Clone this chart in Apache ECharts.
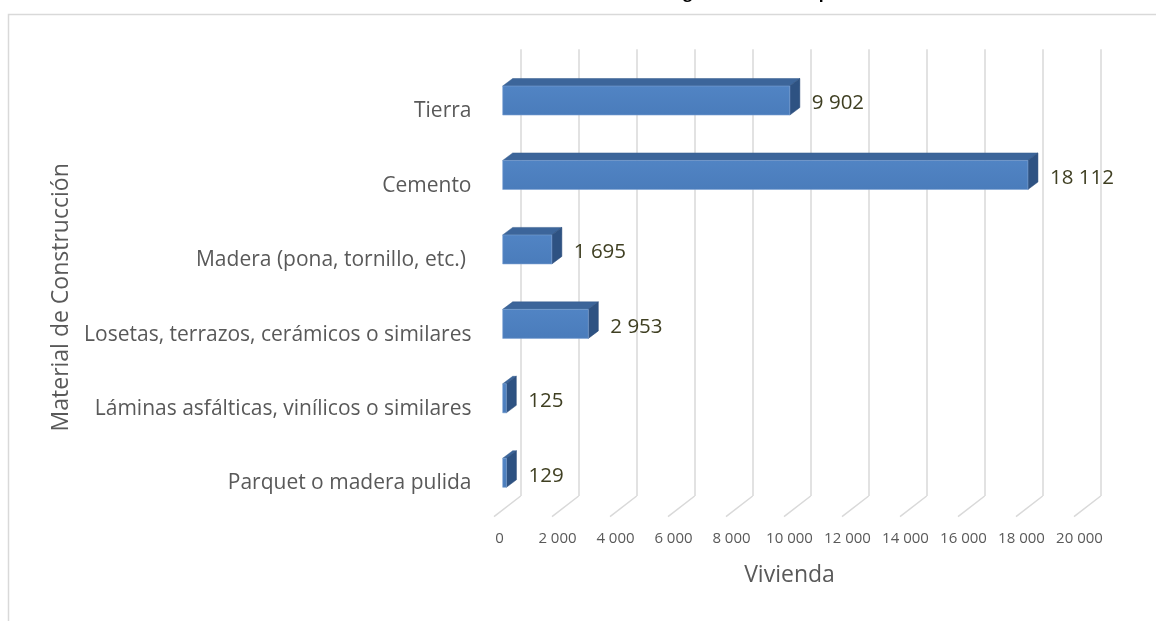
<!DOCTYPE html>
<html>
<head>
<meta charset="utf-8">
<script src="https://cdn.jsdelivr.net/npm/echarts@6/dist/echarts.min.js"></script>
<style>
  html, body { margin: 0; padding: 0; background: #fff; }
  #chart { width: 1156px; height: 621px; }
</style>
</head>
<body>
<div id="chart"></div>
<script>
// datos de la ilustración
const categories = [
    'Tierra',
    'Cemento',
    'Madera (pona, tornillo, etc.) ',
    'Losetas, terrazos, cerámicos o similares',
    'Láminas asfálticas, vinílicos o similares',
    'Parquet o madera pulida'
];
const viviendas = [9902, 18112, 1695, 2953, 125, 129];
const xTicks = [0, 2000, 4000, 6000, 8000, 10000, 12000, 14000, 16000, 18000, 20000];

// el título está cortado en el original (solo se ven los trazos inferiores)
const titleText = 'Ilustración N° 11: Distribución de las viviendas según material del piso';

// perspectiva 3D
const FRONT_DX = -18, FRONT_DY = 14;     // pared del fondo -> frente de la barra
const DEPTH_DX = 10, DEPTH_DY = -7.5;    // profundidad de la barra
const FLOOR_DX = -26.7, FLOOR_DY = 20.7; // profundidad del piso

function fmt(v) {
    return String(v).replace(/\B(?=(\d{3})+(?!\d))/g, ' ');
}

let myChart = echarts.init(document.getElementById('chart'), null, { renderer: 'canvas' });

const option = {
    animation: false,
    backgroundColor: '#fff',
    textStyle: { fontFamily: 'Open Sans' },
    graphic: [
        {
            type: 'rect',
            shape: { x: 8.5, y: 14.5, width: 1200, height: 700 },
            style: { fill: 'none', stroke: '#d9d9d9', lineWidth: 1.5 },
            silent: true
        },
        {
            type: 'text',
            x: 572, y: -6.5,
            style: {
                text: titleText,
                fontFamily: 'Open Sans',
                fontWeight: 'bold',
                fontSize: 16,
                fill: '#000',
                align: 'center',
                verticalAlign: 'middle'
            }
        }
    ],
    grid: [
        // pared del fondo
        { left: 520.7, top: 49.3, width: 580, height: 446.7, containLabel: false },
        // plano frontal (etiquetas)
        { left: 499.5, top: 74, width: 580, height: 446.7, containLabel: false }
    ],
    xAxis: [
        {
            gridIndex: 0, type: 'value', min: 0, max: 20000, interval: 2000,
            axisLine: { show: false }, axisTick: { show: false }, axisLabel: { show: false },
            splitLine: { show: true, lineStyle: { color: '#d9d9d9', width: 1.5 } }
        },
        {
            gridIndex: 1, type: 'value', min: 0, max: 20000, interval: 2000,
            axisLine: { show: false }, axisTick: { show: false }, splitLine: { show: false },
            axisLabel: { color: '#595959', fontSize: 15, margin: 11, formatter: fmt },
            name: 'Vivienda', nameLocation: 'middle', nameGap: 43,
            nameTextStyle: { color: '#595959', fontSize: 23 }
        }
    ],
    yAxis: [
        {
            gridIndex: 0, type: 'category', data: categories, inverse: true,
            axisLine: { show: false }, axisTick: { show: false }, axisLabel: { show: false },
            splitLine: { show: false }
        },
        {
            gridIndex: 1, type: 'category', data: categories, inverse: true,
            axisLine: { show: false }, axisTick: { show: false }, splitLine: { show: false },
            axisLabel: { color: '#595959', fontSize: 21, margin: 28 },
            name: 'Material de Construcción', nameLocation: 'middle', nameGap: 422,
            nameRotate: 90,
            nameTextStyle: { color: '#595959', fontSize: 23 }
        }
    ],
    series: [
        {
            // líneas del piso
            type: 'custom',
            xAxisIndex: 0, yAxisIndex: 0,
            silent: true,
            data: xTicks.map(t => [t, 0]),
            renderItem: function (params, api) {
                const x = api.coord([api.value(0), 0])[0];
                const y = params.coordSys.y + params.coordSys.height;
                return {
                    type: 'line',
                    shape: { x1: x, y1: y, x2: x + FLOOR_DX, y2: y + FLOOR_DY },
                    style: { stroke: '#d9d9d9', lineWidth: 1.5 }
                };
            }
        },
        {
            name: 'Vivienda',
            type: 'custom',
            xAxisIndex: 0, yAxisIndex: 0,
            data: viviendas.map((v, i) => [v, i]),
            renderItem: function (params, api) {
                const v = api.value(0), c = api.value(1);
                const p0 = api.coord([0, c]);
                const p1 = api.coord([v, c]);
                const h = api.size([0, 1])[1] * 0.39;
                const x0 = p0[0] + FRONT_DX, x1 = p1[0] + FRONT_DX;
                const yc = p0[1] + FRONT_DY;
                const yt = yc - h / 2, yb = yc + h / 2;
                return {
                    type: 'group',
                    children: [
                        {
                            // cara superior
                            type: 'polygon',
                            shape: { points: [[x0, yt], [x1, yt], [x1 + DEPTH_DX, yt + DEPTH_DY], [x0 + DEPTH_DX, yt + DEPTH_DY]] },
                            style: { fill: '#3c659a', stroke: '#355c8c', lineWidth: 0.5 }
                        },
                        {
                            // cara lateral
                            type: 'polygon',
                            shape: { points: [[x1, yt], [x1 + DEPTH_DX, yt + DEPTH_DY], [x1 + DEPTH_DX, yb + DEPTH_DY], [x1, yb]] },
                            style: { fill: '#2e5282', stroke: '#2a4b78', lineWidth: 0.5 }
                        },
                        {
                            // cara frontal
                            type: 'rect',
                            shape: { x: x0, y: yt, width: x1 - x0, height: h },
                            style: {
                                fill: new echarts.graphic.LinearGradient(0, 0, 0, 1, [
                                    { offset: 0, color: '#5184c4' },
                                    { offset: 1, color: '#4a7cbb' }
                                ]),
                                stroke: '#7ea3d4', lineWidth: 0.6
                            }
                        },
                        {
                            type: 'text',
                            x: x1 + 22, y: yc + 3,
                            style: {
                                text: fmt(v),
                                fontFamily: 'Open Sans',
                                fontSize: 20.5,
                                fill: '#3f3f22',
                                align: 'left',
                                verticalAlign: 'middle'
                            }
                        }
                    ]
                };
            }
        }
    ]
};

myChart.setOption(option);
</script>
</body>
</html>
